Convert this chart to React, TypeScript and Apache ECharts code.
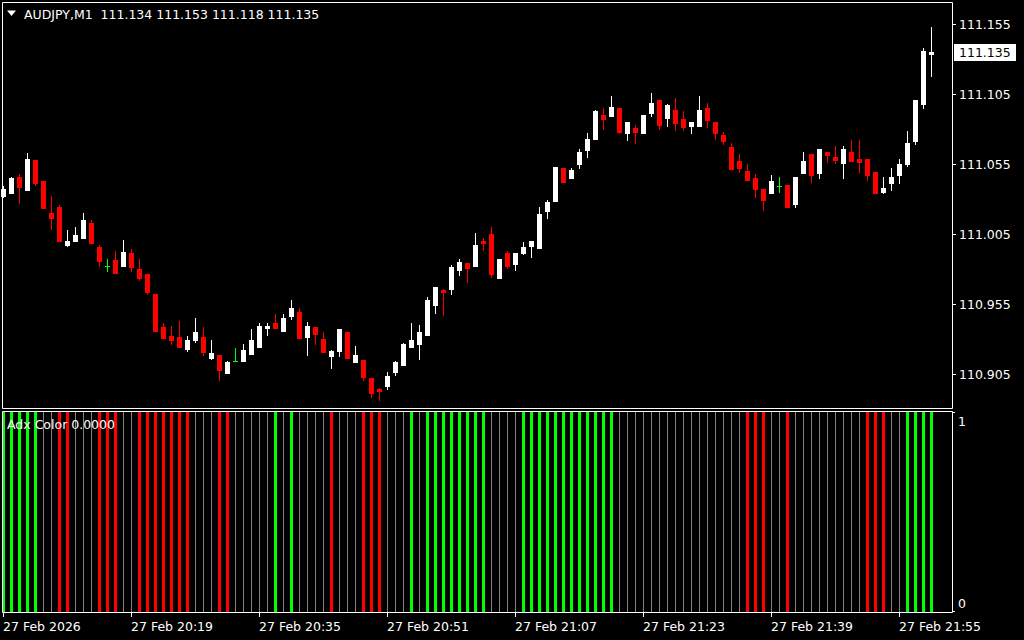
import { useEffect, useRef } from "react";
import * as echarts from "echarts";

const symbolTitle = "AUDJPY,M1";
const indicatorName = "Adx Color";
const indicatorLastValue = 0;

const opens = [
  111.0326, 111.0348, 111.046, 111.0367, 111.0581, 111.0431, 111.0203, 111.0245, 110.9974, 111.0005,
  111.0026, 111.0131, 110.996, 110.9822, 110.9867, 110.9824, 110.9917, 110.9803, 110.9767, 110.9624,
  110.9388, 110.9324, 110.9317, 110.9231, 110.9295, 110.9317, 110.9167, 110.9188, 110.906, 110.9145,
  110.9145, 110.9195, 110.9245, 110.9381, 110.9417, 110.936, 110.9467, 110.9495, 110.9317, 110.9388,
  110.9303, 110.9181, 110.9217, 110.9353, 110.9138, 110.9153, 110.9024, 110.8945, 110.8967, 110.9067,
  110.9117, 110.9245, 110.9267, 110.9331, 110.9545, 110.9653, 110.966, 110.9795, 110.9846, 110.9824,
  111.0003, 111.0053, 110.9738, 110.9917, 110.9838, 110.9917, 110.9967, 110.9953, 111.0217, 111.0288,
  111.0524, 111.0453, 111.0553, 111.0653, 111.0731, 111.0903, 111.0895, 111.0953, 111.0774, 111.081,
  111.0774, 111.0917, 111.101, 111.0881, 111.0938, 111.0874, 111.0824, 111.0824, 111.0953, 111.0853,
  111.076, 111.0674, 111.0574, 111.0503, 111.0453, 111.0374, 111.0346, 111.0395, 111.0403, 111.0267,
  111.0488, 111.0624, 111.0488, 111.0638, 111.0603, 111.056, 111.0638, 111.0588, 111.0588, 111.0495,
  111.0353, 111.0417, 111.0474, 111.0553, 111.0717, 111.0981, 111.134,
];
const highs = [
  111.0395, 111.046, 111.0481, 111.0633, 111.0581, 111.0431, 111.0324, 111.026, 111.0081, 111.0103,
  111.0203, 111.0153, 110.9974, 110.9874, 110.9931, 111.001, 110.9945, 110.9874, 110.9767, 110.9624,
  110.9417, 110.9395, 110.9431, 110.9324, 110.9453, 110.9388, 110.9295, 110.9188, 110.9145, 110.9238,
  110.9267, 110.9374, 110.9417, 110.9417, 110.9481, 110.9481, 110.9581, 110.9524, 110.9424, 110.9388,
  110.9353, 110.9224, 110.9374, 110.9353, 110.9253, 110.9153, 110.9024, 110.8952, 110.9067, 110.9145,
  110.9274, 110.9417, 110.9403, 110.9603, 110.9674, 110.966, 110.9831, 110.9874, 110.9846, 111.006,
  111.0024, 111.0103, 110.9874, 110.9931, 110.9917, 110.9995, 111.0003, 111.0245, 111.0295, 111.0531,
  111.0524, 111.0524, 111.066, 111.0774, 111.0938, 111.0953, 111.1038, 111.0953, 111.0853, 111.0831,
  111.0903, 111.106, 111.101, 111.0981, 111.1024, 111.0931, 111.0853, 111.1038, 111.0988, 111.0853,
  111.0781, 111.0703, 111.0624, 111.0553, 111.0481, 111.0374, 111.0474, 111.046, 111.0403, 111.046,
  111.0638, 111.0624, 111.066, 111.0638, 111.0681, 111.0681, 111.0724, 111.0724, 111.0588, 111.0495,
  111.046, 111.0524, 111.0588, 111.0788, 111.101, 111.1381, 111.153,
];
const lows = [
  111.0319, 111.0348, 111.0276, 111.0367, 111.0405, 111.0238, 111.0088, 111.0005, 110.9967, 111.0005,
  111.0026, 110.999, 110.9824, 110.9788, 110.9774, 110.9824, 110.9788, 110.9724, 110.9624, 110.936,
  110.931, 110.9267, 110.9245, 110.9217, 110.9281, 110.9188, 110.916, 110.901, 110.906, 110.9145,
  110.9145, 110.9195, 110.9245, 110.9331, 110.9381, 110.936, 110.9445, 110.931, 110.9188, 110.9267,
  110.921, 110.9095, 110.9181, 110.9167, 110.9138, 110.901, 110.8888, 110.8867, 110.8945, 110.9045,
  110.9117, 110.9245, 110.916, 110.9331, 110.9488, 110.9474, 110.9624, 110.976, 110.971, 110.9824,
  110.9938, 110.9745, 110.9738, 110.981, 110.9795, 110.991, 110.9888, 110.9953, 111.0167, 111.0288,
  111.0424, 111.0453, 111.0524, 111.0603, 111.0731, 111.0803, 111.0895, 111.0774, 111.0724, 111.0703,
  111.0774, 111.0895, 111.0803, 111.0824, 111.0795, 111.0795, 111.0774, 111.0824, 111.0817, 111.0731,
  111.0695, 111.0517, 111.0495, 111.0438, 111.0317, 111.0224, 111.0346, 111.0353, 111.0245, 111.0245,
  111.0488, 111.0424, 111.0453, 111.0567, 111.056, 111.0453, 111.0574, 111.0495, 111.0438, 111.0346,
  111.0346, 111.0367, 111.0417, 111.0538, 111.0695, 111.0953, 111.118,
];
const closes = [
  111.0374, 111.0455, 111.039, 111.0588, 111.0419, 111.0238, 111.0169, 111.0005, 111.0003, 111.0045,
  111.0153, 110.999, 110.9862, 110.9822, 110.9774, 110.9924, 110.9817, 110.9738, 110.9638, 110.936,
  110.931, 110.9295, 110.9245, 110.9295, 110.9352, 110.921, 110.9203, 110.9081, 110.9138, 110.9145,
  110.9224, 110.9295, 110.9395, 110.9395, 110.9381, 110.9453, 110.9524, 110.931, 110.9395, 110.9338,
  110.921, 110.9217, 110.9374, 110.9167, 110.9188, 110.9031, 110.8917, 110.8931, 110.9038, 110.9138,
  110.9267, 110.9295, 110.9353, 110.9581, 110.9674, 110.9638, 110.9817, 110.9853, 110.981, 110.9974,
  110.9988, 110.9767, 110.9874, 110.9824, 110.9917, 110.996, 111.0003, 111.0195, 111.0281, 111.0531,
  111.0424, 111.051, 111.0638, 111.0731, 111.0931, 111.0874, 111.096, 111.0781, 111.0853, 111.0781,
  111.0903, 111.0988, 111.0831, 111.0974, 111.0846, 111.0817, 111.0853, 111.0938, 111.0867, 111.0774,
  111.0717, 111.0517, 111.0524, 111.0438, 111.0374, 111.0295, 111.0431, 111.0395, 111.0245, 111.046,
  111.0574, 111.0474, 111.066, 111.0617, 111.0581, 111.066, 111.0574, 111.0567, 111.0474, 111.0346,
  111.0381, 111.046, 111.0553, 111.0703, 111.101, 111.136, 111.135,
];

// 1 = rising (green), -1 = falling (red), 0 = flat (gray)
const adxState = [
  1, 1, 1, 1, 1, 0, 0, -1, -1, 0,
  0, 0, -1, -1, -1, 0, 0, -1, -1, -1,
  -1, -1, -1, -1, 0, 0, 0, -1, -1, 0,
  0, 0, 0, 0, 1, 0, 1, 0, 0, 0,
  0, -1, 0, 0, 0, -1, -1, -1, 0, 0,
  0, 1, 0, 1, 1, 1, 1, 1, 1, 1,
  1, 0, 0, 0, 0, 1, 1, 1, 1, 1,
  1, 1, 1, 1, 1, 1, 1, 0, 0, 0,
  0, 0, 0, 0, 0, 0, 0, 0, 0, 0,
  0, 0, 0, -1, -1, -1, 0, 0, -1, 0,
  0, 0, 0, 0, 0, 0, 0, 0, -1, -1,
  -1, 0, 0, 1, 1, 1, 1,
];

const priceTicks = [110.905, 110.955, 111.005, 111.055, 111.105, 111.155];
const indicatorTicks = [0, 1];
const timeTickIndex = [0, 16, 32, 48, 64, 80, 96, 112];
const timeTickLabels = [
  "27 Feb 2026",
  "27 Feb 20:19",
  "27 Feb 20:35",
  "27 Feb 20:51",
  "27 Feb 21:07",
  "27 Feb 21:23",
  "27 Feb 21:39",
  "27 Feb 21:55",
];

const X_MIN = -0.1875;
const X_MAX = 118.6875;
const Y_MIN = 110.88093;
const Y_MAX = 111.17093;
const FONT = '12.5px "DejaVu Sans", sans-serif';

export default function App() {
  const ref = useRef<HTMLDivElement>(null);

  useEffect(() => {
    if (!ref.current) return;
    const chart = echarts.init(ref.current, undefined, { renderer: "svg" });
    const last = opens.length - 1;

    const candleData = opens.map((o, i) => [i, o, closes[i], lows[i], highs[i]]);
    const adxData = adxState.map((s, i) => [i, 1, s]);

    const option: any = {
      animation: false,
      backgroundColor: "#000000",
      grid: [
        { left: 2, top: 2, width: 951, height: 406, show: false },
        { left: 2, top: 412, width: 951, height: 200, show: false },
      ],
      xAxis: [
        { type: "value", gridIndex: 0, min: X_MIN, max: X_MAX, show: false },
        { type: "value", gridIndex: 1, min: X_MIN, max: X_MAX, show: false },
      ],
      yAxis: [
        { type: "value", gridIndex: 0, min: Y_MIN, max: Y_MAX, show: false, scale: true },
        { type: "value", gridIndex: 1, min: 0, max: 1, show: false },
      ],
      graphic: [
        {
          type: "rect",
          shape: { x: 2.5, y: 2.5, width: 950, height: 406 },
          style: { fill: "none", stroke: "#ffffff", lineWidth: 1 },
          silent: true,
          z: 100,
        },
        {
          type: "rect",
          shape: { x: 2.5, y: 411.5, width: 950, height: 201 },
          style: { fill: "none", stroke: "#ffffff", lineWidth: 1 },
          silent: true,
          z: 100,
        },
        {
          type: "polygon",
          shape: { points: [[7, 10.5], [16, 10.5], [11.5, 16]] },
          style: { fill: "#ffffff" },
          z: 101,
        },
        {
          type: "text",
          x: 24,
          y: 14,
          style: {
            text: `${symbolTitle}  ${opens[last].toFixed(3)} ${highs[last].toFixed(3)} ${lows[last].toFixed(3)} ${closes[last].toFixed(3)}`,
            fill: "#ffffff",
            font: FONT,
            verticalAlign: "middle",
          },
          z: 101,
        },
        {
          type: "text",
          x: 7,
          y: 424,
          style: {
            text: `${indicatorName} ${indicatorLastValue.toFixed(4)}`,
            fill: "#ffffff",
            font: FONT,
            verticalAlign: "middle",
          },
          z: 101,
        },
      ],
      series: [
        {
          type: "custom",
          name: "candles",
          xAxisIndex: 0,
          yAxisIndex: 0,
          data: candleData,
          encode: { x: 0, y: [1, 2, 3, 4] },
          renderItem: (_p: any, api: any) => {
            const i = api.value(0);
            const o = api.value(1);
            const c = api.value(2);
            const l = api.value(3);
            const h = api.value(4);
            const cx = api.coord([i, o])[0];
            const yo = api.coord([i, o])[1];
            const yc = api.coord([i, c])[1];
            const yl = api.coord([i, l])[1];
            const yh = api.coord([i, h])[1];
            const col = Math.floor(cx);
            const color = c > o ? "#ffffff" : c < o ? "#ff0000" : "#00ff00";
            const top = Math.round(Math.min(yo, yc));
            const bot = Math.round(Math.max(yo, yc));
            const wt = Math.round(yh);
            const wb = Math.round(yl);
            return {
              type: "group",
              children: [
                { type: "rect", shape: { x: col, y: wt, width: 1, height: wb - wt + 1 }, style: { fill: color } },
                { type: "rect", shape: { x: col - 2, y: top, width: 5, height: bot - top + 1 }, style: { fill: color } },
              ],
            };
          },
          z: 10,
        },
        {
          type: "custom",
          name: "priceAxis",
          xAxisIndex: 0,
          yAxisIndex: 0,
          data: priceTicks.map((v) => [X_MAX, v]),
          encode: { x: 0, y: 1 },
          renderItem: (_p: any, api: any) => {
            const v = api.value(1);
            const pt = api.coord([X_MAX, v]);
            const x = Math.round(pt[0]);
            const y = Math.round(pt[1]);
            return {
              type: "group",
              children: [
                { type: "rect", shape: { x: x, y: y, width: 3, height: 1 }, style: { fill: "#ffffff" } },
                {
                  type: "text",
                  style: { text: v.toFixed(3), x: x + 6, y: y + 0.5, fill: "#ffffff", font: FONT, verticalAlign: "middle" },
                },
              ],
            };
          },
        },
        {
          type: "custom",
          name: "lastPrice",
          xAxisIndex: 0,
          yAxisIndex: 0,
          data: [[X_MAX, closes[last]]],
          encode: { x: 0, y: 1 },
          renderItem: (_p: any, api: any) => {
            const v = api.value(1);
            const pt = api.coord([X_MAX, v]);
            const x = Math.round(pt[0]);
            const y = Math.round(pt[1]);
            return {
              type: "group",
              children: [
                { type: "rect", shape: { x: x + 1, y: y - 8, width: 62, height: 17 }, style: { fill: "#ffffff" } },
                {
                  type: "text",
                  style: { text: v.toFixed(3), x: x + 6, y: y + 0.5, fill: "#000000", font: FONT, verticalAlign: "middle" },
                },
              ],
            };
          },
          z: 20,
        },
        {
          type: "custom",
          name: "adx",
          xAxisIndex: 1,
          yAxisIndex: 1,
          data: adxData,
          encode: { x: 0, y: 1 },
          renderItem: (_p: any, api: any) => {
            const i = api.value(0);
            const v = api.value(1);
            const s = api.value(2);
            const p1 = api.coord([i, v]);
            const p0 = api.coord([i, 0]);
            const col = Math.floor(p1[0]);
            const color = s > 0 ? "#00ff00" : s < 0 ? "#ff0000" : "#808080";
            const w = s === 0 ? 1 : 3;
            const x = s === 0 ? col : col - 1;
            return {
              type: "rect",
              shape: { x, y: Math.round(p1[1]), width: w, height: Math.round(p0[1]) - Math.round(p1[1]) },
              style: { fill: color },
            };
          },
        },
        {
          type: "custom",
          name: "adxAxis",
          xAxisIndex: 1,
          yAxisIndex: 1,
          data: indicatorTicks.map((v) => [X_MAX, v]),
          encode: { x: 0, y: 1 },
          renderItem: (_p: any, api: any) => {
            const v = api.value(1);
            const pt = api.coord([X_MAX, v]);
            const x = Math.round(pt[0]);
            const y = Math.round(pt[1]);
            const isTop = v >= 1;
            return {
              type: "group",
              children: [
                { type: "rect", shape: { x: x, y: isTop ? y : y - 1, width: 2, height: 1 }, style: { fill: "#ffffff" } },
                {
                  type: "text",
                  style: {
                    text: String(v),
                    x: x + 5,
                    y: isTop ? y + 3 : y - 2,
                    fill: "#ffffff",
                    font: FONT,
                    verticalAlign: isTop ? "top" : "bottom",
                  },
                },
              ],
            };
          },
        },
        {
          type: "custom",
          name: "timeAxis",
          xAxisIndex: 1,
          yAxisIndex: 1,
          data: timeTickIndex.map((idx, k) => [idx, 0, k]),
          encode: { x: 0, y: 1 },
          renderItem: (_p: any, api: any) => {
            const idx = api.value(0);
            const k = api.value(2);
            const pt = api.coord([idx, 0]);
            const col = Math.floor(pt[0]);
            const y = Math.round(pt[1]);
            return {
              type: "group",
              children: [
                { type: "rect", shape: { x: col, y: y + 1, width: 1, height: 4 }, style: { fill: "#ffffff" } },
                {
                  type: "text",
                  style: { text: timeTickLabels[k], x: col, y: y + 14, fill: "#ffffff", font: FONT, verticalAlign: "middle" },
                },
              ],
            };
          },
        },
      ],
    };

    chart.setOption(option);
    return () => chart.dispose();
  }, []);

  return (
    <div
      ref={ref}
      style={{ position: "fixed", left: 0, top: 0, width: 1024, height: 640, background: "#000" }}
    />
  );
}
